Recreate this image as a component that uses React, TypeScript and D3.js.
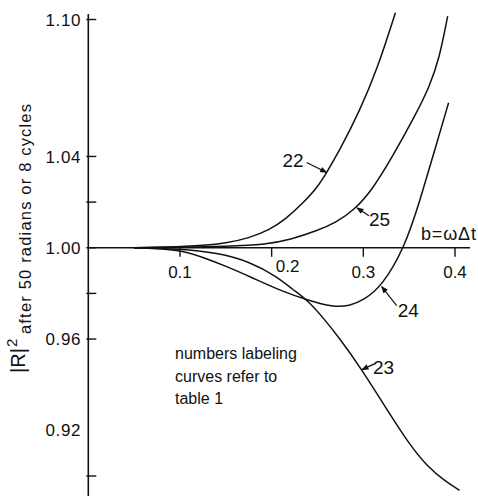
import * as d3 from 'd3'

// |R|^2 after 50 radians vs b = omega*dt
const curve22: [number, number][] = [
  [0.05, 1.0], [0.1, 1.0004], [0.125, 1.001], [0.15, 1.002], [0.175, 1.0042],
  [0.198, 1.0079], [0.215, 1.0125], [0.234, 1.0195], [0.25, 1.0265], [0.26, 1.033],
  [0.274, 1.0425], [0.296, 1.06], [0.315, 1.078], [0.335, 1.103],
]
const curve25: [number, number][] = [
  [0.05, 1.0], [0.1, 1.0002], [0.15, 1.0006], [0.195, 1.0015], [0.22, 1.0035],
  [0.25, 1.0075], [0.27, 1.011], [0.29, 1.0165], [0.31, 1.0255], [0.332, 1.04],
  [0.358, 1.059], [0.372, 1.0705], [0.383, 1.083], [0.392, 1.1015],
]
const curve24: [number, number][] = [
  [0.05, 1.0], [0.1, 0.9993], [0.125, 0.9958], [0.15, 0.992], [0.1765, 0.9873],
  [0.2125, 0.9807], [0.2385, 0.9772], [0.2667, 0.974], [0.285, 0.9745], [0.3, 0.977],
  [0.32, 0.983], [0.345, 1.0], [0.362, 1.021], [0.378, 1.043], [0.393, 1.0635],
]
const curve23: [number, number][] = [
  [0.05, 1.0], [0.1, 0.9996], [0.1406, 0.9978], [0.1765, 0.9939], [0.2059, 0.9873],
  [0.2233, 0.9816], [0.2385, 0.9772], [0.256, 0.9695], [0.275, 0.9598], [0.296, 0.948],
  [0.326, 0.929], [0.35, 0.914], [0.37, 0.904], [0.39, 0.8975], [0.405, 0.8937],
]

const curves = [curve22, curve25, curve24, curve23]
const curveNames = ['22', '25', '24', '23']
// where each label's arrow touches its curve
const labelPoints: [number, number][] = [[0.26, 1.033], [0.293, 1.0175], [0.32, 0.983], [0.2985, 0.9466]]

const xTicks = [0.1, 0.2, 0.3, 0.4]
const yTicks = [0.9, 0.96, 0.98, 1.0, 1.02, 1.04, 1.1]
const yLabels = [0.92, 0.96, 1.0, 1.04, 1.1]
const noteLines = ['numbers labeling', 'curves refer to', 'table 1']

const font = '"Liberation Sans", Arial, sans-serif'
const ink = '#111'

export default function App() {
  const width = 478
  const height = 496

  const x = d3.scaleLinear().domain([0, 0.4]).range([88.3, 455])
  const y = d3.scaleLinear().domain([0.9, 1.1]).range([476, 19.5])

  const line = d3.line<[number, number]>()
    .x(d => x(d[0]))
    .y(d => y(d[1]))
    .curve(d3.curveBasis)

  const x0 = x(0)
  const y1 = y(1)

  // label offsets (pixels) relative to the arrow tip: [textX, textY, anchor, arrowX, arrowY]
  const labelLayout: [number, number, string, number, number][] = [
    [-23, -5, 'end', -20, -10],
    [12, 18, 'start', 12, 8],
    [16, 30, 'start', 15, 19],
    [11, 4, 'start', 13, -6],
  ]

  return (
    <svg width={width} height={height} style={{ position: 'absolute', left: 0, top: 0, background: '#fff' }}>
      <defs>
        <marker id="arr" viewBox="0 0 10 10" refX="9" refY="5" markerWidth="6" markerHeight="6" orient="auto">
          <path d="M0,1 L10,5 L0,9 Z" fill={ink} />
        </marker>
      </defs>

      {/* axes */}
      <line x1={x0} x2={x0} y1={14} y2={height} stroke={ink} strokeWidth={1.6} />
      <line x1={x0} x2={470} y1={y1} y2={y1} stroke={ink} strokeWidth={1.6} />

      {yTicks.map(t => (
        <line key={t} x1={x0 - 2} x2={x0 + 8} y1={y(t)} y2={y(t)} stroke={ink} strokeWidth={1.4} />
      ))}
      {yLabels.map(t => (
        <text key={t} x={81} y={y(t)} dy="0.36em" textAnchor="end" fontFamily={font} fontSize={17}
          letterSpacing={0.6} fill={ink}>
          {t.toFixed(2)}
        </text>
      ))}

      {xTicks.map(t => (
        <g key={t}>
          <line x1={x(t)} x2={x(t)} y1={y1} y2={y1 + 9} stroke={ink} strokeWidth={1.4} />
          <text x={x(t) + (t === 0.2 ? 16 : 0)} y={y1 + (t === 0.2 ? 24 : 30)} textAnchor="middle"
            fontFamily={font} fontSize={17} fill={ink}>
            {t.toFixed(1)}
          </text>
        </g>
      ))}

      <text x={421} y={240} fontFamily={font} fontSize={18} fill={ink} textLength={55}>b=ωΔt</text>

      {/* y axis title */}
      <text transform="translate(25,373) rotate(-90)" fontFamily={font} fontSize={20} fill={ink}>|R|</text>
      <text transform="translate(17,347) rotate(-90)" fontFamily={font} fontSize={15} fill={ink}>2</text>
      <text transform="translate(31,334) rotate(-90)" fontFamily={font} fontSize={16.5} fill={ink}
        textLength={230}>after 50 radians or 8 cycles</text>

      {/* curves */}
      {curves.map((c, i) => (
        <path key={curveNames[i]} d={line(c) ?? ''} fill="none" stroke={ink} strokeWidth={1.5} />
      ))}

      {labelPoints.map((p, i) => {
        const tx = x(p[0])
        const ty = y(p[1])
        const [lx, ly, anchor, ax, ay] = labelLayout[i]
        return (
          <g key={curveNames[i]}>
            <line x1={tx + ax} y1={ty + ay} x2={tx} y2={ty} stroke={ink} strokeWidth={1.2} markerEnd="url(#arr)" />
            <text x={tx + lx} y={ty + ly} textAnchor={anchor} fontFamily={font} fontSize={19} fill={ink}>
              {curveNames[i]}
            </text>
          </g>
        )
      })}

      {noteLines.map((s, i) => (
        <text key={s} x={175} y={359 + i * 22.5} fontFamily={font} fontSize={16} fill={ink}>{s}</text>
      ))}
    </svg>
  )
}
